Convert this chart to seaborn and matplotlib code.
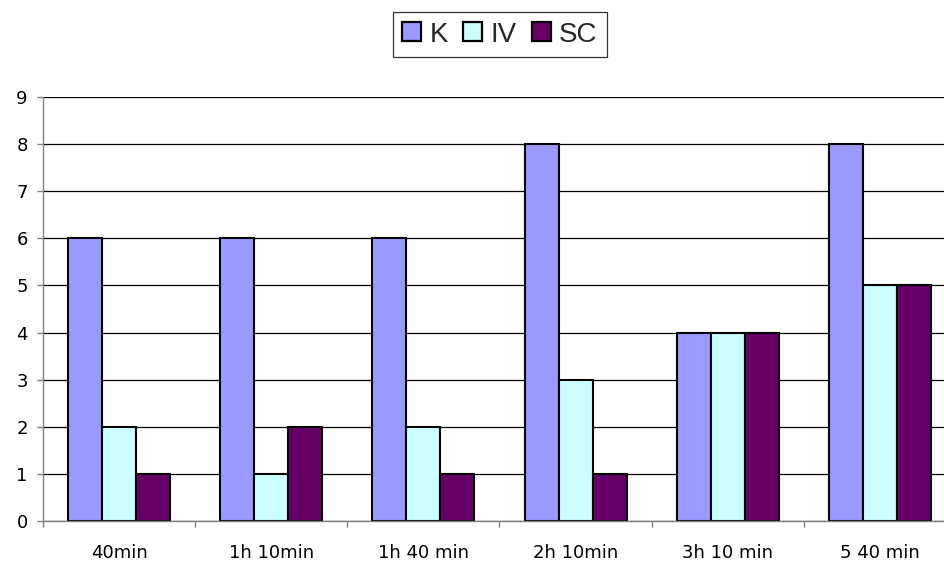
import matplotlib
matplotlib.use("Agg")
import matplotlib.pyplot as plt
import seaborn as sns
import pandas as pd
from matplotlib.ticker import FixedLocator
from matplotlib.patches import Patch

categories = ["40min", "1h 10min", "1h 40 min", "2h 10min", "3h 10 min", "5 40 min"]
series_names = ["K", "IV", "SC"]
k_values = [6, 6, 6, 8, 4, 8]
iv_values = [2, 1, 2, 3, 4, 5]
sc_values = [1, 2, 1, 1, 4, 5]
y_ticks = list(range(0, 10))

colors = ["#9999FF", "#CCFFFF", "#660066"]

df = pd.DataFrame({
    "time": categories * 3,
    "group": ["K"] * 6 + ["IV"] * 6 + ["SC"] * 6,
    "value": k_values + iv_values + sc_values,
})

sns.set_style("white")
plt.rcParams["font.family"] = ["DejaVu Sans"]

W, H = 944, 561
fig = plt.figure(figsize=(W / 100, H / 100), dpi=100)
left, right, top, bottom = 43, 956, 97, 521
ax = fig.add_axes([left / W, 1 - bottom / H, (right - left) / W, (bottom - top) / H])

sns.barplot(data=df, x="time", y="value", hue="group", order=categories,
            hue_order=series_names, palette=colors, width=0.67,
            edgecolor="black", linewidth=1.5, saturation=1, ax=ax, legend=False)

ax.set_xlim(-0.5, len(categories) - 0.5)
ax.set_ylim(0, 9)
ax.set_yticks(y_ticks)
ax.yaxis.grid(True, color="black", linewidth=0.9)
ax.set_axisbelow(True)
ax.set_xlabel("")
ax.set_ylabel("")

for s in ["top", "right"]:
    ax.spines[s].set_visible(False)
for s in ["left", "bottom"]:
    ax.spines[s].set_color("#808080")
    ax.spines[s].set_linewidth(1.0)

ax.tick_params(axis="y", which="major", left=True, length=4, width=1,
               color="#808080", labelsize=13, pad=7, labelcolor="black")
ax.tick_params(axis="x", which="major", bottom=False, labelsize=13, pad=13,
               labelcolor="black")
ax.xaxis.set_minor_locator(FixedLocator([i - 0.5 for i in range(len(categories) + 1)]))
ax.tick_params(axis="x", which="minor", bottom=True, length=4, width=1, color="#808080")

handles = [Patch(facecolor=c, edgecolor="black", linewidth=1.6) for c in colors]
leg = fig.legend(handles, series_names, loc="center",
                 bbox_to_anchor=(500 / W, 1 - 34.5 / H), ncol=3,
                 frameon=True, fancybox=False, shadow=False,
                 handlelength=0.68, handleheight=0.68, handletextpad=0.3,
                 columnspacing=0.55, borderpad=0.35,
                 prop={"family": ["Liberation Sans Narrow", "Liberation Sans"], "size": 20})
leg.get_frame().set_edgecolor("black")
leg.get_frame().set_linewidth(0.9)

fig.savefig("out.png", dpi=100)
